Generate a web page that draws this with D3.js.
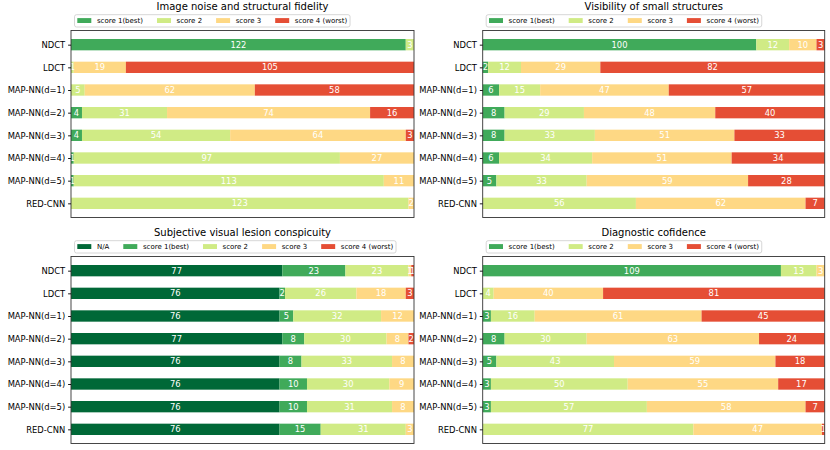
<!DOCTYPE html>
<html>
<head>
<meta charset="utf-8">
<script src="https://cdn.jsdelivr.net/npm/d3@7"></script>
<style>
  html, body { margin: 0; padding: 0; background: #fff; }
  svg { display: block; font-family: "DejaVu Sans", sans-serif; }
</style>
</head>
<body>
<svg id="chart" width="830" height="450"></svg>
<script>
// ---------- data ----------
const categories = ["NDCT", "LDCT", "MAP-NN(d=1)", "MAP-NN(d=2)", "MAP-NN(d=3)", "MAP-NN(d=4)", "MAP-NN(d=5)", "RED-CNN"];
const scoreNames = ["score 1(best)", "score 2", "score 3", "score 4 (worst)"];
const lesionNames = ["N/A", "score 1(best)", "score 2", "score 3", "score 4 (worst)"];

// Image noise and structural fidelity
const noiseScore1 = [122, 0, 0, 4, 4, 1, 1, 0];
const noiseScore2 = [3, 1, 5, 31, 54, 97, 113, 123];
const noiseScore3 = [0, 19, 62, 74, 64, 27, 11, 2];
const noiseScore4 = [0, 105, 58, 16, 3, 0, 0, 0];

// Visibility of small structures
const visScore1 = [100, 2, 6, 8, 8, 6, 5, 0];
const visScore2 = [12, 12, 15, 29, 33, 34, 33, 56];
const visScore3 = [10, 29, 47, 48, 51, 51, 59, 62];
const visScore4 = [3, 82, 57, 40, 33, 34, 28, 7];

// Subjective visual lesion conspicuity
const lesionNA = [77, 76, 76, 77, 76, 76, 76, 76];
const lesionScore1 = [23, 2, 5, 8, 8, 10, 10, 15];
const lesionScore2 = [23, 26, 32, 30, 33, 30, 31, 31];
const lesionScore3 = [1, 18, 12, 8, 8, 9, 8, 3];
const lesionScore4 = [1, 3, 0, 2, 0, 0, 0, 0];

// Diagnostic cofidence
const diagScore1 = [109, 0, 3, 8, 5, 3, 3, 0];
const diagScore2 = [13, 4, 16, 30, 43, 50, 57, 77];
const diagScore3 = [3, 40, 61, 63, 59, 55, 58, 47];
const diagScore4 = [0, 81, 45, 24, 18, 17, 7, 1];

const xMax = 125;

// ---------- styles ----------
const scoreColors = ["#40aa5a", "#d0eb85", "#fed884", "#e54e35"];
const naColor = "#006837";

const panels = [
  { title: "Image noise and structural fidelity", names: scoreNames, colors: scoreColors,
    series: [noiseScore1, noiseScore2, noiseScore3, noiseScore4], x0: 71, x1: 414, y0: 30.5 },
  { title: "Visibility of small structures", names: scoreNames, colors: scoreColors,
    series: [visScore1, visScore2, visScore3, visScore4], x0: 482.7, x1: 824.7, y0: 30.5 },
  { title: "Subjective visual lesion conspicuity", names: lesionNames, colors: [naColor].concat(scoreColors),
    series: [lesionNA, lesionScore1, lesionScore2, lesionScore3, lesionScore4], x0: 71, x1: 414, y0: 256.5 },
  { title: "Diagnostic cofidence", names: scoreNames, colors: scoreColors,
    series: [diagScore1, diagScore2, diagScore3, diagScore4], x0: 482.7, x1: 824.7, y0: 256.5 }
];

const svg = d3.select("#chart");
const axH = 187;
const tickFont = 8.4, titleFont = 10, legFont = 7;

const measurer = svg.append("text").attr("font-size", legFont).attr("visibility", "hidden");
function textW(s) { measurer.text(s); return measurer.node().getComputedTextLength(); }

panels.forEach(p => {
  const g = svg.append("g");
  const x = d3.scaleLinear().domain([0, xMax]).range([p.x0, p.x1]);
  // matplotlib-like barh: bar height 0.5, y margins 5%
  const y = d3.scaleLinear().domain([-0.625, categories.length - 1 + 0.625]).range([p.y0, p.y0 + axH]);
  const barH = (y(1) - y(0)) * 0.5;

  // stacked data
  const rows = categories.map((c, i) => {
    let cum = 0;
    return p.series.map((s, k) => {
      const v = s[i];
      const o = { cat: c, i, k, start: cum, value: v };
      cum += v;
      return o;
    });
  });

  const segs = rows.flat();
  g.selectAll("rect.bar").data(segs).enter().append("rect")
    .attr("class", "bar")
    .attr("x", d => x(d.start))
    .attr("width", d => x(d.start + d.value) - x(d.start))
    .attr("y", d => y(d.i) - barH / 2)
    .attr("height", barH)
    .attr("fill", d => p.colors[d.k]);

  g.selectAll("text.val").data(segs.filter(d => d.value > 0)).enter().append("text")
    .attr("class", "val")
    .attr("x", d => x(d.start + d.value / 2))
    .attr("y", d => y(d.i))
    .attr("dy", "0.36em")
    .attr("text-anchor", "middle")
    .attr("font-size", tickFont)
    .attr("fill", "#fff")
    .text(d => d.value);

  // spines
  g.append("rect")
    .attr("x", p.x0).attr("y", p.y0)
    .attr("width", p.x1 - p.x0).attr("height", axH)
    .attr("fill", "none").attr("stroke", "#333").attr("stroke-width", 0.9);

  // y axis ticks + labels
  const yAxis = d3.axisLeft(y)
    .tickValues(d3.range(categories.length))
    .tickFormat(i => categories[i])
    .tickSize(2.9).tickPadding(2.9);
  const ya = g.append("g").attr("transform", `translate(${p.x0},0)`).call(yAxis);
  ya.select(".domain").remove();
  ya.selectAll(".tick line").attr("stroke", "#000").attr("stroke-width", 0.9);
  ya.selectAll(".tick text").attr("font-size", tickFont).attr("fill", "#000")
    .attr("font-family", "DejaVu Sans, sans-serif");

  // title
  g.append("text")
    .attr("x", (p.x0 + p.x1) / 2).attr("y", p.y0 - 21)
    .attr("text-anchor", "middle").attr("font-size", titleFont).attr("fill", "#000")
    .text(p.title);

  // legend
  const handleL = 2 * legFont, handlePad = 0.8 * legFont, colSp = 2 * legFont, borderPad = 0.4 * legFont;
  const boxBottom = p.y0 - 3.5, boxH = 12.3, boxTop = boxBottom - boxH;
  const boxLeft = p.x0 + 3.5;
  const lg = g.append("g");
  const frame = lg.append("rect");
  let cx = boxLeft + borderPad;
  const mid = boxTop + boxH / 2;
  p.names.forEach((n, k) => {
    lg.append("rect").attr("x", cx).attr("y", mid - 2.45 - 0.3).attr("width", handleL).attr("height", 4.9)
      .attr("fill", p.colors[k]);
    cx += handleL + handlePad;
    lg.append("text").attr("x", cx).attr("y", mid).attr("dy", "0.36em")
      .attr("font-size", legFont).attr("fill", "#000").text(n);
    cx += textW(n);
    if (k < p.names.length - 1) cx += colSp;
  });
  cx += borderPad;
  frame.attr("x", boxLeft).attr("y", boxTop).attr("width", cx - boxLeft).attr("height", boxH)
    .attr("rx", 2).attr("fill", "#fff").attr("fill-opacity", 0.8)
    .attr("stroke", "#ccc").attr("stroke-width", 0.8);
});
measurer.remove();
</script>
</body>
</html>
